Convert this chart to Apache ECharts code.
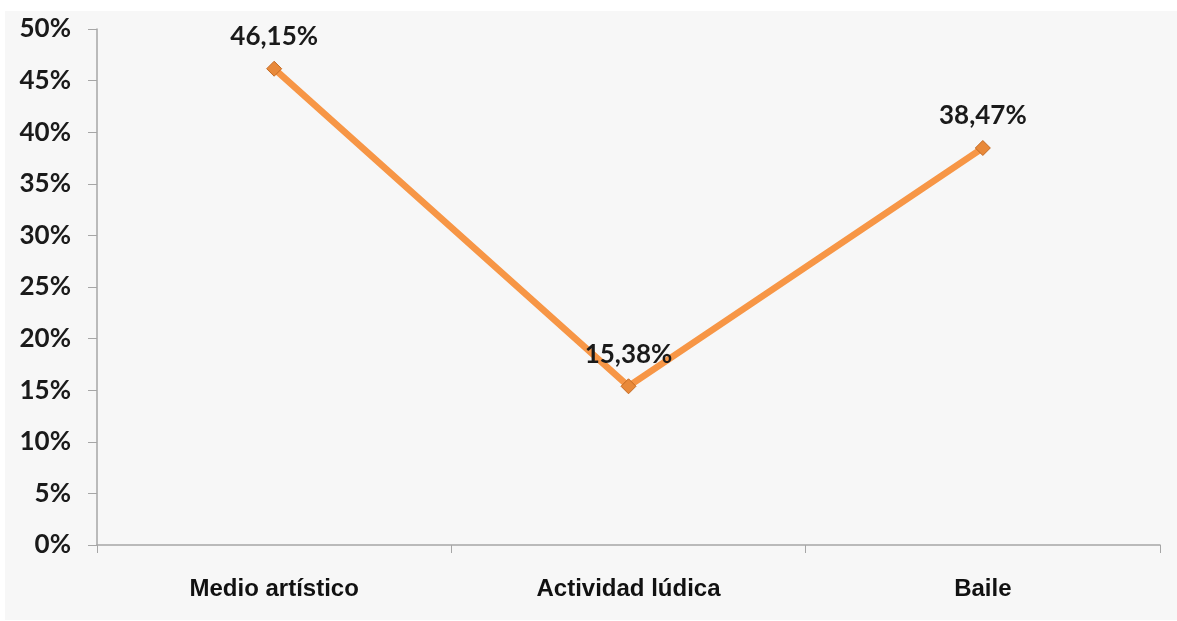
<!DOCTYPE html>
<html>
<head>
<meta charset="utf-8">
<script src="https://cdn.jsdelivr.net/npm/echarts@6/dist/echarts.min.js"></script>
<style>
html,body{margin:0;padding:0;background:#ffffff;}
#chart{position:absolute;left:5px;top:11px;width:1172px;height:609px;background:#f7f7f7;}
</style>
</head>
<body>
<div id="chart"></div>
<script>
const categories = ['Medio artístico', 'Actividad lúdica', 'Baile'];
const values = [46.15, 15.38, 38.47];
const valueLabels = ['46,15%', '15,38%', '38,47%'];

const chart = echarts.init(document.getElementById('chart'), null, {renderer: 'canvas'});
chart.setOption({
  backgroundColor: '#f7f7f7',
  animation: false,
  grid: {left: 92, right: 17, top: 18, bottom: 75},
  xAxis: {
    type: 'category',
    data: categories,
    boundaryGap: true,
    axisLine: {lineStyle: {color: '#a6a6a6', width: 1.5}},
    axisTick: {show: true, length: 8, lineStyle: {color: '#a6a6a6'}},
    axisLabel: {
      margin: 32,
      color: '#111111',
      fontFamily: '"Liberation Sans Narrow", "Arial Narrow", "Liberation Sans", sans-serif',
      fontWeight: 'bold',
      fontSize: 24
    }
  },
  yAxis: {
    type: 'value',
    min: 0,
    max: 50,
    interval: 5,
    splitLine: {show: false},
    axisLine: {show: true, lineStyle: {color: '#a6a6a6', width: 1.5}},
    axisTick: {show: true, length: 9, lineStyle: {color: '#a6a6a6'}},
    axisLabel: {
      margin: 26,
      color: '#1a1a1a',
      fontFamily: 'Lato, "Open Sans", sans-serif',
      fontWeight: 'bold',
      fontSize: 26,
      formatter: function (v) { return v + '%'; }
    }
  },
  series: [{
    type: 'line',
    data: values,
    lineStyle: {color: '#f79646', width: 6.5},
    symbol: 'diamond',
    symbolSize: 15,
    itemStyle: {color: '#e8893a', borderColor: '#c46a22', borderWidth: 1},
    label: {
      show: true,
      position: 'top',
      distance: 11,
      color: '#1a1a1a',
      fontFamily: 'Lato, "Open Sans", sans-serif',
      fontWeight: 'bold',
      fontSize: 26,
      formatter: function (p) { return valueLabels[p.dataIndex]; }
    }
  }]
});
</script>
</body>
</html>
